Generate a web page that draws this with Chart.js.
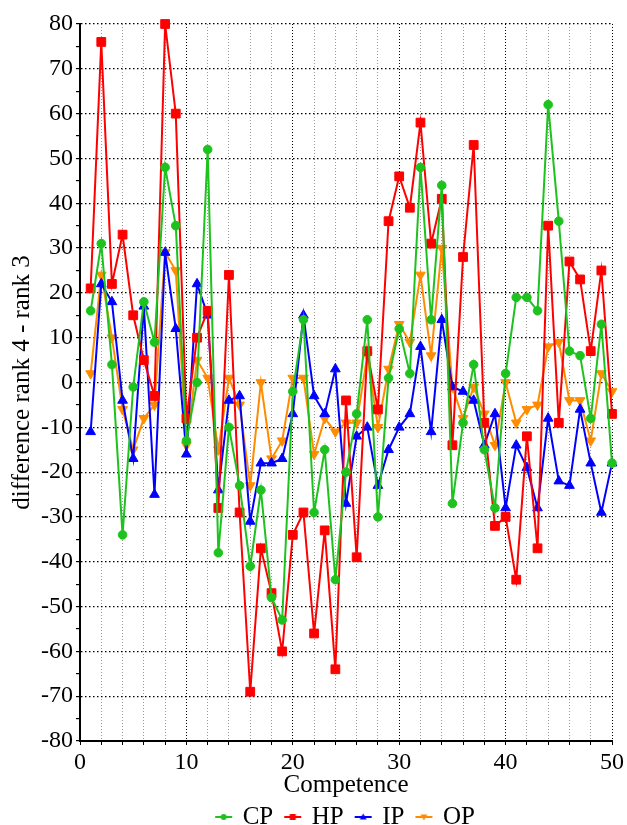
<!DOCTYPE html>
<html>
<head>
<meta charset="utf-8">
<script src="https://cdn.jsdelivr.net/npm/chart.js@4/dist/chart.umd.min.js"></script>
<style>
  html, body { margin: 0; padding: 0; background: #fff; overflow: hidden; }
  #wrap { width: 627px; height: 825px; }
</style>
</head>
<body>
<div id="wrap"><canvas id="chart" width="627" height="825"></canvas></div>
<script>
const competence = [1, 2, 3, 4, 5, 6, 7, 8, 9, 10, 11, 12, 13, 14, 15, 16, 17, 18, 19, 20,
  21, 22, 23, 24, 25, 26, 27, 28, 29, 30, 31, 32, 33, 34, 35, 36, 37, 38, 39, 40,
  41, 42, 43, 44, 45, 46, 47, 48, 49, 50]

const cpValues = [16, 31, 4, -34, -1, 18, 9, 48, 35, -13, 0, 52, -38, -10, -23, -41, -24, -48, -53, -2,
  14, -29, -15, -44, -20, -7, 14, -30, 1, 12, 2, 48, 14, 44, -27, -9, 4, -15, -28, 2,
  19, 19, 16, 62, 36, 7, 6, -8, 13, -18]
const hpValues = [21, 76, 22, 33, 15, 5, -3, 80, 60, -8, 10, 16, -28, 24, -29, -69, -37, -47, -60, -34,
  -29, -56, -33, -64, -4, -39, 7, -6, 36, 46, 39, 58, 31, 41, -14, 28, 53, -9, -32, -30,
  -44, -12, -37, 35, -9, 27, 23, 7, 25, -7]
const ipValues = [-11, 22, 18, -4, -17, 17, -25, 29, 12, -16, 22, 15, -24, -4, -3, -31, -18, -18, -17, -7,
  15, -3, -7, 3, -27, -12, -10, -23, -15, -10, -7, 8, -11, 14, -1, -2, -4, -14, -7, -28,
  -14, -19, -28, -8, -22, -23, -6, -18, -29, -18]
const opValues = [2, 24, 10, -6, -15, -8, -5, 29, 25, -14, 5, 1, -15, 1, -5, -23, 0, -17, -13, 1,
  1, -16, -8, -11, -9, -9, 6, -10, 3, 13, 9, 24, 6, 30, -1, -8, -1, -7, -14, 0,
  -9, -6, -5, 8, 9, -4, -4, -13, 2, -2]

const seriesNames = ['CP', 'HP', 'IP', 'OP']
const seriesColors = ['#1ec21e', '#ff0000', '#0000ff', '#ff8c00']
const seriesMarkers = ['circle', 'rect', 'triangle', 'triangleDown']
const markerRadius = { circle: 4.3, rect: 6.2, triangle: 5.6, triangleDown: 5.6 }

const serif = 'Liberation Serif'
Chart.defaults.font.family = serif
Chart.defaults.color = '#000'

// small line + marker icon for the legend
function legendIcon(color, marker) {
  let c = document.createElement('canvas')
  c.width = 19
  c.height = 12
  let g = c.getContext('2d')
  g.strokeStyle = color
  g.fillStyle = color
  g.lineWidth = 2
  g.beginPath()
  g.moveTo(1, 6)
  g.lineTo(18, 6)
  g.stroke()
  g.beginPath()
  if (marker === 'circle') {
    g.arc(9.5, 6, 3, 0, Math.PI * 2)
  } else if (marker === 'rect') {
    g.rect(6.5, 3, 6, 6)
  } else if (marker === 'triangle') {
    g.moveTo(9.5, 2.5); g.lineTo(13, 8.5); g.lineTo(6, 8.5); g.closePath()
  } else {
    g.moveTo(9.5, 9.5); g.lineTo(13, 3.5); g.lineTo(6, 3.5); g.closePath()
  }
  g.fill()
  return c
}

function makeDataset(i, values) {
  let marker = seriesMarkers[i]
  return {
    label: seriesNames[i],
    data: competence.map((c, k) => ({ x: c, y: values[k] })),
    borderColor: seriesColors[i],
    backgroundColor: seriesColors[i],
    borderWidth: 2,
    pointStyle: marker === 'triangleDown' ? 'triangle' : marker,
    pointRotation: marker === 'triangleDown' ? 180 : 0,
    pointRadius: markerRadius[marker],
    pointBorderWidth: 1,
    lineTension: 0,
    fill: false,
    clip: false
  }
}

const tickFont = { size: 24, family: serif, style: 'normal', weight: 'normal' }

new Chart(document.getElementById('chart').getContext('2d'), {
  type: 'line',
  data: {
    datasets: [
      makeDataset(0, cpValues),
      makeDataset(1, hpValues),
      makeDataset(2, ipValues),
      makeDataset(3, opValues)
    ]
  },
  options: {
    responsive: false,
    animation: false,
    layout: { padding: { left: 0, right: 13, top: 24, bottom: -14.5 } },
    plugins: {
      tooltip: { enabled: false },
      legend: {
        position: 'bottom',
        fullSize: false,
        labels: {
          usePointStyle: true,
          pointStyleWidth: 13,
          padding: 13,
          font: { size: 25, family: serif },
          generateLabels: chart => chart.data.datasets.map((ds, i) => ({
            text: ds.label,
            pointStyle: legendIcon(seriesColors[i], seriesMarkers[i]),
            fillStyle: seriesColors[i],
            strokeStyle: seriesColors[i],
            lineWidth: 0,
            fontColor: '#000',
            hidden: false,
            datasetIndex: i
          }))
        }
      }
    },
    scales: {
      x: {
        type: 'linear',
        min: 0,
        max: 50,
        afterFit: s => { s.height = 50.5 },
        ticks: {
          stepSize: 2,
          autoSkip: false,
          maxRotation: 0,
          padding: 3,
          font: tickFont,
          callback: v => (v % 10 === 0 ? String(v) : '')
        },
        grid: {
          color: ctx => (ctx.tick && ctx.tick.value % 10 === 0 ? '#000' : '#9a9a9a'),
          lineWidth: 1,
          tickColor: '#000',
          tickLength: 4
        },
        border: { color: '#000', width: 2, dash: [1, 2] },
        title: {
          display: true,
          text: 'Competence',
          font: { size: 25, family: serif },
          padding: { top: 0, bottom: -9 }
        }
      },
      y: {
        min: -80,
        max: 80,
        afterFit: s => { s.width = 80 },
        ticks: {
          stepSize: 5,
          autoSkip: false,
          padding: 3,
          font: tickFont,
          callback: v => (v % 10 === 0 ? String(v) : '')
        },
        grid: {
          color: ctx => (ctx.tick && ctx.tick.value % 10 === 0 ? '#000' : 'rgba(0,0,0,0)'),
          lineWidth: 1.2,
          tickColor: '#000',
          tickLength: 4
        },
        border: { color: '#000', width: 2, dash: [1.5, 2.5] },
        title: {
          display: true,
          text: 'difference rank 4 - rank 3',
          font: { size: 25, family: serif },
          padding: { top: 7, bottom: 0 }
        }
      }
    }
  }
})
</script>
</body>
</html>
